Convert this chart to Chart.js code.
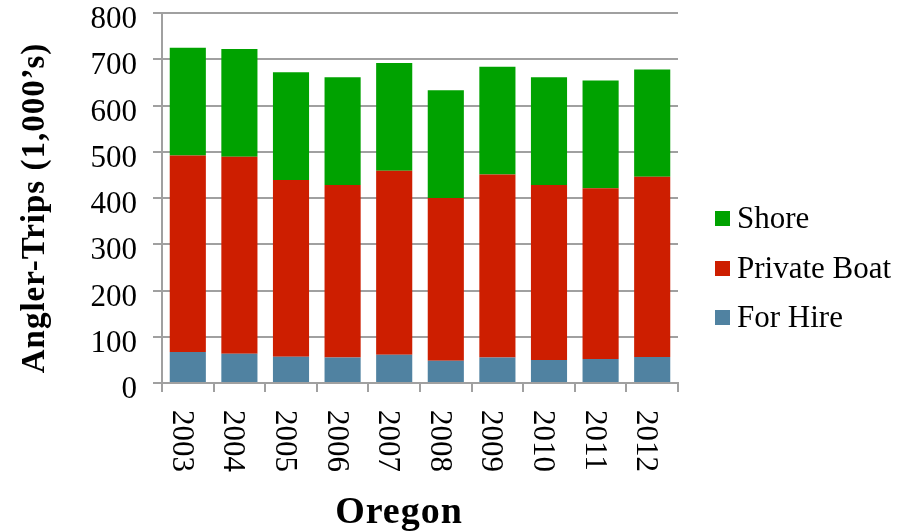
<!DOCTYPE html>
<html>
<head>
<meta charset="utf-8">
<script src="https://cdn.jsdelivr.net/npm/chart.js@4.4.0/dist/chart.umd.min.js"></script>
<style>
    body { margin: 0; background: #fff; }
</style>
</head>
<body>
<canvas id="chartBoxCanvas" width="914" height="532"></canvas>
<script>
'use strict';

// Values, in 1,000's of angler-trips
const years = ['2003', '2004', '2005', '2006', '2007', '2008', '2009', '2010', '2011', '2012'];
const forHire = [67, 63, 57, 55, 61, 48, 55, 50, 52, 56];
const privateBoat = [425, 426, 382, 373, 398, 352, 396, 378, 369, 390];
const shore = [233, 233, 233, 233, 233, 233, 233, 233, 233, 232];

const yTitle = 'Angler-Trips (1,000\u2019s)';
const xTitle = 'Oregon';

const gridGray = '#a0a0a0';
const serif = "'Liberation Serif', 'Times New Roman', serif";

// Rotated year labels, axis titles and the legend, drawn after the chart
const extrasPlugin = {
    id: 'extras',
    afterDraw(chart) {
        const ctx = chart.ctx;
        const xScale = chart.scales.x;

        ctx.save();
        ctx.fillStyle = '#000';

        // year labels, reading top to bottom
        ctx.font = '31px ' + serif;
        ctx.textAlign = 'left';
        ctx.textBaseline = 'alphabetic';
        for (let i = 0; i < years.length; i++) {
            ctx.save();
            ctx.translate(xScale.getPixelForValue(i) - 15, 410);
            ctx.rotate(Math.PI / 2);
            ctx.fillText(years[i], 0, 0);
            ctx.restore();
        }

        // y title
        ctx.save();
        ctx.font = 'bold 33px ' + serif;
        ctx.letterSpacing = '1px';
        ctx.textAlign = 'center';
        ctx.translate(44, 208);
        ctx.rotate(-Math.PI / 2);
        ctx.fillText(yTitle, 0, 0);
        ctx.restore();

        // x title
        ctx.save();
        ctx.font = 'bold 38px ' + serif;
        ctx.letterSpacing = '1px';
        ctx.textAlign = 'center';
        ctx.fillText(xTitle, 399, 523);
        ctx.restore();

        // legend, top item is the top of the stack
        const sets = chart.data.datasets.slice().reverse();
        const rowY = [218, 268, 317];
        ctx.font = '31px ' + serif;
        ctx.textAlign = 'left';
        ctx.textBaseline = 'middle';
        for (let i = 0; i < sets.length; i++) {
            ctx.fillStyle = sets[i].backgroundColor;
            ctx.fillRect(715, rowY[i] - 7, 15, 15);
            ctx.fillStyle = '#000';
            ctx.fillText(sets[i].label, 737, rowY[i] + 2);
        }
        ctx.restore();
    }
};

const ctx = document.getElementById('chartBoxCanvas').getContext('2d');
window.myChart = new Chart(ctx, {
    type: 'bar',
    data: {
        labels: years,
        datasets: [
            { label: 'For Hire', data: forHire, backgroundColor: '#5082a1' },
            { label: 'Private Boat', data: privateBoat, backgroundColor: '#cd1e00' },
            { label: 'Shore', data: shore, backgroundColor: '#00a200' }
        ]
    },
    options: {
        responsive: false,
        animation: false,
        barPercentage: 0.7,
        categoryPercentage: 1,
        layout: { padding: { left: 0, top: 13, right: 236, bottom: 0 } },
        plugins: {
            legend: { display: false },
            tooltip: { enabled: false }
        },
        scales: {
            x: {
                stacked: true,
                ticks: { display: false },
                grid: { offset: true, drawOnChartArea: false, tickLength: 9, color: gridGray, lineWidth: 2 },
                border: { color: gridGray, width: 2 },
                afterFit(scale) {
                    scale.height = 149;
                    scale.paddingLeft = 0;
                    scale.paddingRight = 0;
                }
            },
            y: {
                stacked: true,
                min: 0,
                max: 800,
                ticks: {
                    stepSize: 100,
                    color: '#000',
                    padding: 16,
                    labelOffset: 7,
                    font: { family: serif, size: 31 }
                },
                grid: { color: gridGray, lineWidth: 2, tickLength: 9 },
                border: { color: gridGray, width: 2 },
                afterFit(scale) {
                    scale.width = 162;
                    scale.paddingTop = 0;
                    scale.paddingBottom = 0;
                }
            }
        }
    },
    plugins: [extrasPlugin]
});
</script>
</body>
</html>
